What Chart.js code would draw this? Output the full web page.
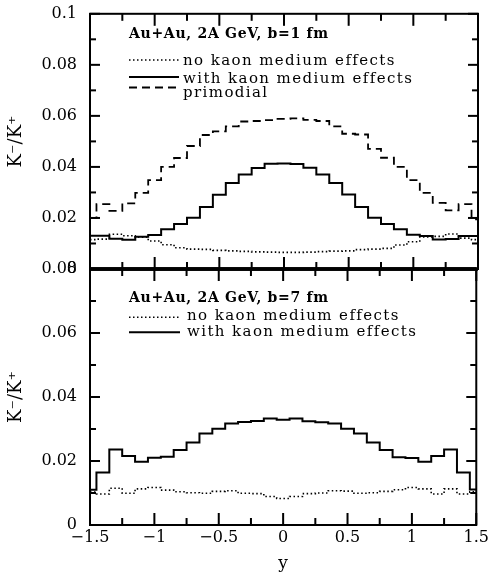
<!DOCTYPE html>
<html><head><meta charset="utf-8">
<script src="https://cdn.jsdelivr.net/npm/chart.js@4.4.1/dist/chart.umd.min.js"></script>
<style>
html,body{margin:0;padding:0;background:#fff;}
#wrap{position:relative;width:492px;height:579px;background:#fff;overflow:hidden;}
#wrap canvas{position:absolute;left:0;}
#c1{top:0;} #c2{top:255px;}
</style></head><body>
<div id="wrap"><canvas id="c1" width="492" height="285"></canvas><canvas id="c2" width="492" height="324"></canvas></div>
<script>
// ---- data ----
const rapidity = [-1.5,-1.4,-1.3,-1.2,-1.1,-1.0,-0.9,-0.8,-0.7,-0.6,-0.5,-0.4,-0.3,-0.2,-0.1,0,0.1,0.2,0.3,0.4,0.5,0.6,0.7,0.8,0.9,1.0,1.1,1.2,1.3,1.4,1.5];
// b = 1 fm
const topNoMedium   = [0.0115,0.0117,0.0136,0.0130,0.0125,0.0110,0.0095,0.0083,0.0078,0.0077,0.0073,0.0071,0.0069,0.0067,0.0066,0.0065,0.0065,0.0066,0.0068,0.0070,0.0071,0.0076,0.0078,0.0081,0.0094,0.0107,0.0126,0.0128,0.0137,0.0121,0.0115];
const topWithMedium = [0.0130,0.0130,0.0119,0.0115,0.0126,0.0133,0.0156,0.0176,0.0201,0.0243,0.0291,0.0337,0.0370,0.0396,0.0412,0.0413,0.0411,0.0397,0.0370,0.0337,0.0292,0.0243,0.0201,0.0176,0.0156,0.0134,0.0129,0.0116,0.0118,0.0129,0.0129];
const topPrimordial = [0.0200,0.0254,0.0228,0.0257,0.0298,0.0348,0.0400,0.0435,0.0482,0.0525,0.0539,0.0559,0.0578,0.0580,0.0583,0.0588,0.0590,0.0584,0.0580,0.0559,0.0530,0.0527,0.0471,0.0436,0.0400,0.0348,0.0298,0.0259,0.0230,0.0254,0.0195];
// b = 7 fm
const botNoMedium   = [0.0103,0.0097,0.0115,0.0099,0.0113,0.0117,0.0109,0.0104,0.0101,0.0099,0.0105,0.0107,0.0099,0.0098,0.0089,0.0083,0.0089,0.0098,0.0100,0.0107,0.0106,0.0099,0.0101,0.0105,0.0110,0.0117,0.0113,0.0097,0.0113,0.0097,0.0104];
const botWithMedium = [0.0110,0.0164,0.0236,0.0216,0.0198,0.0210,0.0213,0.0234,0.0258,0.0286,0.0301,0.0317,0.0322,0.0325,0.0333,0.0329,0.0333,0.0324,0.0321,0.0317,0.0301,0.0286,0.0258,0.0234,0.0212,0.0209,0.0198,0.0216,0.0236,0.0164,0.0111];

const xTickValues = [-1.5,-1,-0.5,0,0.5,1,1.5];
const xTickLabels = ['\u22121.5','\u22121','\u22120.5','0','0.5','1','1.5'];
const xMinorTicks = [-1.25,-0.75,-0.25,0.25,0.75,1.25];
const topYTickValues = [0,0.02,0.04,0.06,0.08,0.1];
const topYTickLabels = ['0','0.02','0.04','0.06','0.08','0.1'];
const topYMinorTicks = [0.01,0.03,0.05,0.07,0.09];
const botYTickValues = [0,0.02,0.04,0.06,0.08];
const botYTickLabels = ['0','0.02','0.04','0.06','0.08'];
const botYMinorTicks = [0.01,0.03,0.05,0.07];
const topTitle = 'Au+Au, 2A GeV, b=1 fm';
const botTitle = 'Au+Au, 2A GeV, b=7 fm';
const seriesNames = ['no kaon medium effects','with kaon medium effects','primodial'];
const yTitle = 'K\u207B/K\u207A';
const xTitle = 'y';

// ---- styles ----
const FONT = 'DejaVu Serif';
const styles = [
  {borderWidth:1.6, borderDash:[1.5,2.5]},
  {borderWidth:2, borderDash:[]},
  {borderWidth:1.8, borderDash:[8,5]}
];
function ds(i, arr){
  return {label:seriesNames[i], data:rapidity.map((x,k)=>({x:x,y:arr[k]})), stepped:'middle',
    borderColor:'#000', backgroundColor:'#000', borderWidth:styles[i].borderWidth, borderDash:styles[i].borderDash,
    pointRadius:0, fill:false};
}

function framePlugin(o){
  return {id:'frame', afterDraw(chart){
    const ctx=chart.ctx, a=chart.chartArea, xs=chart.scales.x, ys=chart.scales.y;
    ctx.save();
    ctx.globalAlpha=1; ctx.globalCompositeOperation='source-over';
    ctx.setLineDash([]); ctx.strokeStyle='#000000'; ctx.fillStyle='#000000';
    ctx.lineWidth=2;
    ctx.strokeRect(a.left,a.top,a.right-a.left,a.bottom-a.top);
    if(o.midLine==='bottom'){ctx.fillRect(a.left,a.bottom-1.8,a.right-a.left,3.6);}
    if(o.midLine==='top'){ctx.fillRect(a.left,a.top-1.8,a.right-a.left,3.6);}
    // inward tick marks as filled bars
    const w=2;
    xTickValues.forEach(v=>{const p=xs.getPixelForValue(v);
      ctx.fillRect(p-w/2,a.top,w,12); ctx.fillRect(p-w/2,a.bottom-12,w,12);});
    xMinorTicks.forEach(v=>{const p=xs.getPixelForValue(v);
      ctx.fillRect(p-w/2,a.top,w,7); ctx.fillRect(p-w/2,a.bottom-7,w,7);});
    o.yMajor.forEach(v=>{const p=ys.getPixelForValue(v);
      ctx.fillRect(a.left,p-w/2,10,w); ctx.fillRect(a.right-10,p-w/2,10,w);});
    o.yMinor.forEach(v=>{const p=ys.getPixelForValue(v);
      ctx.fillRect(a.left,p-w/2,6,w); ctx.fillRect(a.right-6,p-w/2,6,w);});
    // annotations
    ctx.textBaseline='alphabetic'; ctx.textAlign='left';
    ctx.font='bold 14px "'+FONT+'"';
    if('letterSpacing' in ctx) ctx.letterSpacing='0.7px';
    ctx.fillText(o.title, o.titleX, o.titleBase);
    ctx.font='15px "'+FONT+'"';
    if('letterSpacing' in ctx) ctx.letterSpacing='1.4px';
    o.rows.forEach(r=>{
      const st=styles[r.i];
      ctx.fillText(seriesNames[r.i], o.textX, r.base);
      ctx.save(); ctx.lineWidth=st.borderWidth; ctx.setLineDash(st.borderDash);
      ctx.beginPath(); ctx.moveTo(o.lineX1, r.lineY); ctx.lineTo(o.lineX2, r.lineY); ctx.stroke(); ctx.restore();
    });
    if('letterSpacing' in ctx) ctx.letterSpacing='0px';
    ctx.restore();
  }};
}

function yScale(max, vals, labels){
  return {type:'linear', min:0, max:max,
    grid:{display:false, drawTicks:false}, border:{display:false},
    afterBuildTicks(s){ s.ticks = vals.map(v=>({value:v})); },
    ticks:{padding:13, color:'#000', font:{family:FONT, size:16, lineHeight:0.1}, callback:(v,i)=>labels[i]},
    title:{display:true, text:yTitle, color:'#000', font:{family:FONT, size:18}, padding:{top:6,bottom:0}},
    afterFit(s){ s.width = 90; }
  };
}

// keep the plot frame where the reference has it (canvas-local pixels)
function pinArea(chart, wantTop, wantBottom){
  for(let k=0;k<5;k++){
    const a=chart.chartArea, p=chart.options.layout.padding;
    const dt=wantTop-a.top, db=a.bottom-wantBottom;
    if(Math.abs(dt)<0.25 && Math.abs(db)<0.25) break;
    chart.options.layout.padding={left:p.left, right:p.right, top:Math.max(0,p.top+dt), bottom:Math.max(0,p.bottom+db)};
    chart.update('none');
  }
}

Chart.defaults.animation = false;
const chartTop = new Chart(document.getElementById('c1'), {
  type:'line',
  data:{datasets:[ds(0,topNoMedium), ds(1,topWithMedium), ds(2,topPrimordial)]},
  options:{responsive:false, maintainAspectRatio:false, animation:false,
    layout:{padding:{left:0,right:14,top:13,bottom:12}},
    plugins:{legend:{display:false}, tooltip:{enabled:false}},
    scales:{
      x:{type:'linear', min:-1.5, max:1.5, grid:{display:false,drawTicks:false}, border:{display:false}, ticks:{display:false}, afterFit(s){s.height=0;}},
      y:yScale(0.1, topYTickValues, topYTickLabels)
    }},
  plugins:[framePlugin({yMajor:topYTickValues, yMinor:topYMinorTicks, midLine:'bottom', title:topTitle, titleX:129, titleBase:38,
    textX:183, lineX1:129, lineX2:179, rows:[{i:0,base:65,lineY:60},{i:1,base:83,lineY:77},{i:2,base:96.5,lineY:87.5}]})]
});
pinArea(chartTop, 13, 269);

const chartBot = new Chart(document.getElementById('c2'), {
  type:'line',
  data:{datasets:[ds(0,botNoMedium), ds(1,botWithMedium)]},
  options:{responsive:false, maintainAspectRatio:false, animation:false,
    layout:{padding:{left:0,right:14,top:14,bottom:0}},
    plugins:{legend:{display:false}, tooltip:{enabled:false}},
    scales:{
      x:{type:'linear', min:-1.5, max:1.5, grid:{display:false,drawTicks:false}, border:{display:false},
        afterBuildTicks(s){ s.ticks = xTickValues.map(v=>({value:v})); },
        ticks:{padding:3, color:'#000', maxRotation:0, font:{family:FONT, size:16}, callback:(v,i)=>xTickLabels[i]},
        title:{display:true, text:xTitle, color:'#000', font:{family:FONT, size:17}, padding:{top:0,bottom:5}},
        afterFit(s){s.height=54;}},
      y:yScale(0.08, botYTickValues, botYTickLabels)
    }},
  plugins:[framePlugin({yMajor:botYTickValues, yMinor:botYMinorTicks, midLine:'top', title:botTitle, titleX:129, titleBase:301.7-255,
    textX:187, lineX1:129, lineX2:180, rows:[{i:0,base:320-255,lineY:317.3-255},{i:1,base:335.7-255,lineY:332.3-255}]})]
});
pinArea(chartBot, 269-255, 525-255);
</script>
</body></html>
